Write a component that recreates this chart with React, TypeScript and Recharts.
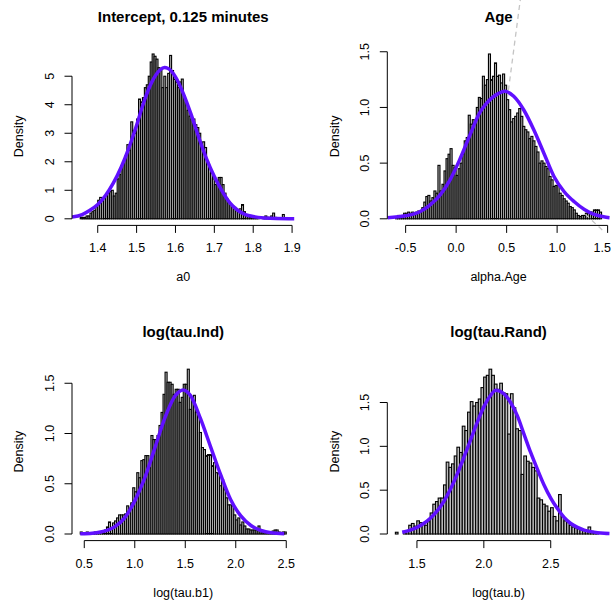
import React from "react";
import { ComposedChart, Bar, Line, XAxis, YAxis, ReferenceLine } from "recharts";

const FONT = '"Liberation Sans", Arial, Helvetica, sans-serif';
const PLOT_W = 222.5;
const PLOT_H = 178;
const Y_AXIS_W = 40;
const X_AXIS_H = 40;
const TICK = 7.5;
const CURVE = "#6010ff";
const BAR_FILL = "#bdbdbd";

// a0 : histogram breaks start 1.355, width 0.005
const a0Start = 1.355;
const a0Width = 0.005;
const a0Density = [
  0.05, 0.05, 0.05, 0.1, 0.1, 0.2, 0.25, 0.3, 0.45, 0.65,
  0.75, 0.7, 0.75, 0.85, 0.9, 0.95, 1.0, 0.8, 0.9, 1.4,
  1.55, 1.8, 2.0, 2.2, 2.6, 2.4, 3.4, 3.1, 3.0, 3.5,
  4.2, 4.1, 4.25, 4.6, 4.7, 5.0, 5.5, 5.78, 5.7, 5.6,
  5.3, 5.2, 4.6, 5.0, 4.6, 5.1, 5.73, 5.2, 4.9, 4.8,
  4.6, 4.8, 4.9, 4.3, 4.1, 3.8, 3.6, 3.5, 3.5, 3.3,
  3.2, 3.0, 2.6, 2.7, 2.5, 2.0, 1.8, 1.6, 1.4, 1.2,
  1.3, 1.45, 1.45, 1.2, 0.9, 0.7, 0.6, 0.5, 0.45, 0.4,
  0.35, 0.3, 0.35, 0.5, 0.25, 0.15, 0.1, 0.05, 0.05, 0.05,
  0.02, 0.02, 0, 0, 0.05, 0.1, 0.05, 0.05, 0.1, 0.2,
  0.05, 0, 0, 0, 0.15, 0,
];
const a0CurveX = [1.334, 1.36, 1.38, 1.4, 1.42, 1.44, 1.46, 1.48, 1.5, 1.52, 1.54, 1.56, 1.572, 1.58, 1.6, 1.62, 1.64, 1.66, 1.68, 1.7, 1.72, 1.74, 1.76, 1.78, 1.8, 1.83, 1.86, 1.906];
const a0CurveY = [0.06, 0.15, 0.3, 0.5, 0.82, 1.25, 1.8, 2.48, 3.28, 4.15, 4.82, 5.22, 5.31, 5.28, 4.98, 4.4, 3.67, 2.85, 2.1, 1.48, 0.97, 0.56, 0.3, 0.15, 0.08, 0.03, 0.01, 0.003];
const a0XTicks = [1.4, 1.5, 1.6, 1.7, 1.8, 1.9];
const a0XLabels = ["1.4", "1.5", "1.6", "1.7", "1.8", "1.9"];
const a0YTicks = [0, 1, 2, 3, 4, 5];
const a0YLabels = ["0", "1", "2", "3", "4", "5"];

// alpha.Age : start -0.6, width 0.02
const ageStart = -0.6;
const ageWidth = 0.02;
const ageDensity = [
  0.02, 0.03, 0.02, 0.03, 0.05, 0.05, 0.06, 0.05, 0.06, 0.05,
  0.06, 0.07, 0.06, 0.1, 0.15, 0.2, 0.21, 0.16, 0.19, 0.25,
  0.23, 0.48, 0.25, 0.31, 0.43, 0.54, 0.58, 0.63, 0.48, 0.46,
  0.39, 0.45, 0.5, 0.58, 0.7, 0.73, 0.93, 0.85, 0.89, 0.88,
  1.0, 1.09, 1.08, 1.28, 1.2, 1.25, 1.48, 1.25, 1.28, 1.4,
  1.28, 1.29, 1.22, 1.3, 1.2, 1.07, 0.98, 0.87, 0.9, 0.92,
  0.95, 0.99, 0.92, 0.83, 0.8, 0.78, 0.72, 0.74, 0.7, 0.65,
  0.6, 0.5, 0.52, 0.5, 0.47, 0.45, 0.38, 0.35, 0.29, 0.3,
  0.3, 0.23, 0.21, 0.18, 0.16, 0.14, 0.11, 0.1, 0.08, 0.05,
  0.03, 0.02, 0.03, 0.03, 0.05, 0.05, 0.06, 0.06, 0.08, 0.08,
  0.08, 0.06,
];
const ageCurveX = [-0.68, -0.5, -0.36, -0.26, -0.16, -0.06, 0.03, 0.13, 0.23, 0.3, 0.42, 0.48, 0.57, 0.67, 0.77, 0.87, 0.97, 1.07, 1.17, 1.27, 1.36, 1.46, 1.52];
const ageCurveY = [0.01, 0.027, 0.063, 0.123, 0.213, 0.35, 0.52, 0.737, 0.947, 1.036, 1.126, 1.145, 1.1, 0.977, 0.797, 0.587, 0.378, 0.243, 0.153, 0.084, 0.042, 0.018, 0.01];
const ageDashTop = [{ x: 0.64, y: 2.0 }, { x: 0.51, y: 1.1 }];
const ageDashLow = [{ x: 1.28, y: 0.04 }, { x: 1.47, y: -0.12 }];
const ageXTicks = [-0.5, 0, 0.5, 1, 1.5];
const ageXLabels = ["-0.5", "0.0", "0.5", "1.0", "1.5"];
const halfYTicks = [0, 0.5, 1, 1.5];
const halfYLabels = ["0.0", "0.5", "1.0", "1.5"];

// log(tau.b1) : start 0.46, width 0.02
const indStart = 0.46;
const indWidth = 0.02;
const indDensity = [
  0.02, 0.01, 0.01, 0.02, 0.01, 0.01, 0.01, 0.02, 0.01, 0.02,
  0.02, 0.03, 0.04, 0.07, 0.12, 0.06, 0.11, 0.13, 0.16, 0.19,
  0.19, 0.19, 0.2, 0.28, 0.23, 0.31, 0.46, 0.42, 0.61, 0.56,
  0.73, 0.74, 0.78, 0.78, 0.66, 0.98, 0.94, 0.94, 0.98, 1.08,
  1.21, 1.39, 1.61, 1.51, 1.51, 1.49, 1.39, 1.44, 1.44, 1.31,
  1.36, 1.49, 1.49, 1.64, 1.24, 1.34, 1.38, 1.21, 1.2, 1.01,
  0.86, 0.84, 0.78, 0.79, 0.79, 0.68, 0.71, 0.61, 0.6, 0.48,
  0.54, 0.44, 0.36, 0.29, 0.29, 0.28, 0.19, 0.14, 0.16, 0.09,
  0.12, 0.08, 0.05, 0.05, 0.04, 0.04, 0.04, 0.04, 0.08, 0.03,
  0.02, 0.02, 0.02, 0.02, 0.01, 0.03, 0.04, 0.04, 0.02, 0.01,
  0.02, 0.02,
];
const indCurveX = [0.46, 0.5, 0.6, 0.7, 0.8, 0.9, 1.0, 1.1, 1.2, 1.3, 1.4, 1.48, 1.55, 1.65, 1.75, 1.85, 1.95, 2.05, 2.15, 2.25, 2.35, 2.48];
const indCurveY = [0.002, 0.003, 0.01, 0.028, 0.071, 0.16, 0.33, 0.56, 0.86, 1.16, 1.375, 1.433, 1.38, 1.15, 0.87, 0.59, 0.34, 0.18, 0.085, 0.035, 0.012, 0.003];
const indXTicks = [0.5, 1, 1.5, 2, 2.5];
const indXLabels = ["0.5", "1.0", "1.5", "2.0", "2.5"];

// log(tau.b) : start 1.34, width 0.02
const randStart = 1.34;
const randWidth = 0.02;
const randDensity = [
  0.02, 0, 0, 0.02, 0.03, 0.1, 0.12, 0.09, 0.15, 0.13,
  0.12, 0.1, 0.14, 0.24, 0.34, 0.37, 0.41, 0.41, 0.56, 0.82,
  0.76, 0.8, 0.89, 0.99, 0.93, 1.23, 1.18, 1.39, 1.51, 1.46,
  1.5, 1.54, 1.67, 1.79, 1.81, 1.88, 1.81, 1.71, 1.65, 1.72,
  1.61, 1.6, 1.14, 1.6, 1.44, 1.2, 1.18, 0.68, 0.89, 0.83,
  0.81, 0.76, 0.72, 0.41, 0.39, 0.34, 0.32, 0.26, 0.3, 0.2,
  0.15, 0.45, 0.2, 0.15, 0.13, 0.1, 0.08, 0.07, 0.06, 0.05,
  0.05, 0.04, 0.08, 0.03, 0.01, 0.01, 0,
];
const randCurveX = [1.39, 1.45, 1.5, 1.55, 1.6, 1.65, 1.7, 1.75, 1.8, 1.85, 1.9, 1.95, 2.0, 2.05, 2.09, 2.15, 2.2, 2.25, 2.3, 2.35, 2.4, 2.45, 2.5, 2.55, 2.6, 2.65, 2.7, 2.75, 2.8, 2.85, 2.9, 2.94];
const randCurveY = [0.02, 0.045, 0.075, 0.12, 0.18, 0.26, 0.37, 0.51, 0.68, 0.87, 1.07, 1.27, 1.45, 1.58, 1.64, 1.6, 1.5, 1.35, 1.14, 0.93, 0.74, 0.56, 0.41, 0.29, 0.19, 0.12, 0.075, 0.045, 0.027, 0.015, 0.008, 0.005];
const randXTicks = [1.5, 2, 2.5];
const randXLabels = ["1.5", "2.0", "2.5"];

type Pt = { x: number; y: number };

type PanelProps = {
  title: string;
  xLabel: string;
  start: number;
  width: number;
  density: number[];
  curveX: number[];
  curveY: number[];
  xTicks: number[];
  xLabels: string[];
  yTicks: number[];
  yLabels: string[];
  plotLeft: number;
  plotTop: number;
  height: number;
  dashes?: Pt[][];
};

const Panel = (p: PanelProps) => {
  const bins = p.density.map((d, i) => ({ x: p.start + p.width * (i + 0.5), d }));
  const curve = p.curveX.map((x, i) => ({ x, y: p.curveY[i] }));
  const lo = p.start;
  const hi = p.start + p.width * p.density.length;
  const pad = (hi - lo) * 0.04;
  const xDomain: [number, number] = [lo - pad, hi + pad];
  const yMax = Math.max(...p.density);
  const yDomain: [number, number] = [-0.04 * yMax, 1.04 * yMax];
  const barPx = (p.width / (xDomain[1] - xDomain[0])) * PLOT_W;
  const plotBottom = p.plotTop + PLOT_H;
  const midX = p.plotLeft + PLOT_W / 2;
  const midY = p.plotTop + PLOT_H / 2;
  const densX = p.plotLeft - 48.5;

  return (
    <ComposedChart
      width={306}
      height={p.height}
      data={bins}
      barCategoryGap={0}
      barGap={0}
      margin={{
        top: p.plotTop,
        left: p.plotLeft - Y_AXIS_W,
        right: 306 - p.plotLeft - PLOT_W,
        bottom: p.height - plotBottom - X_AXIS_H,
      }}
    >
      <XAxis
        type="number"
        dataKey="x"
        domain={xDomain}
        allowDataOverflow
        ticks={p.xTicks}
        interval={0}
        height={X_AXIS_H}
        axisLine={false}
        tickLine={{ stroke: "#000" }}
        tickSize={TICK}
        tickMargin={0}
        tick={(t: any) => {
          const label = p.xLabels[p.xTicks.indexOf(t.payload.value)];
          // keep a label that would run past the right edge inside the picture
          const clip = t.x + 9 > 305;
          return (
            <text
              x={clip ? 305 : t.x}
              y={t.y + 19.5}
              textAnchor={clip ? "end" : "middle"}
              fontSize={12.5}
              fontFamily={FONT}
              fill="#000"
            >
              {label}
            </text>
          );
        }}
      />
      <YAxis
        type="number"
        domain={yDomain}
        allowDataOverflow
        ticks={p.yTicks}
        interval={0}
        width={Y_AXIS_W}
        axisLine={false}
        tickLine={{ stroke: "#000" }}
        tickSize={TICK}
        tickMargin={0}
        tick={(t: any) => (
          <text
            x={t.x - 10.5}
            y={t.y}
            transform={`rotate(-90 ${t.x - 10.5} ${t.y})`}
            textAnchor="middle"
            fontSize={12.5}
            fontFamily={FONT}
            fill="#000"
          >
            {p.yLabels[p.yTicks.indexOf(t.payload.value)]}
          </text>
        )}
      />
      {(p.dashes || []).map((seg, i) => (
        <ReferenceLine
          key={`dash-${i}`}
          segment={seg}
          stroke="#c4c4c4"
          strokeWidth={1.3}
          strokeDasharray="5 4"
          ifOverflow="visible"
        />
      ))}
      <Bar
        dataKey="d"
        isAnimationActive={false}
        shape={(b: any) => {
          const mid = b.x + b.width / 2;
          const top = Math.min(b.y, b.y + b.height);
          return (
            <rect
              x={mid - barPx / 2}
              y={top}
              width={barPx}
              height={Math.abs(b.height)}
              fill={BAR_FILL}
              stroke="#000"
              strokeWidth={1.1}
            />
          );
        }}
      />
      <Line
        data={curve}
        dataKey="y"
        type="monotone"
        stroke={CURVE}
        strokeWidth={3.5}
        dot={false}
        activeDot={false}
        isAnimationActive={false}
      />
      <ReferenceLine
        segment={[
          { x: p.xTicks[0], y: yDomain[0] },
          { x: p.xTicks[p.xTicks.length - 1], y: yDomain[0] },
        ]}
        stroke="#000"
        strokeWidth={1}
        ifOverflow="visible"
      />
      <ReferenceLine
        segment={[
          { x: xDomain[0], y: p.yTicks[0] },
          { x: xDomain[0], y: p.yTicks[p.yTicks.length - 1] },
        ]}
        stroke="#000"
        strokeWidth={1}
        ifOverflow="visible"
      />
      <text x={midX} y={p.plotTop - 25.5} textAnchor="middle" fontSize={15} fontWeight="bold" fontFamily={FONT} fill="#000">
        {p.title}
      </text>
      <text x={midX} y={plotBottom + 56} textAnchor="middle" fontSize={12.5} fontFamily={FONT} fill="#000">
        {p.xLabel}
      </text>
      <text
        x={densX}
        y={midY}
        transform={`rotate(-90 ${densX} ${midY})`}
        textAnchor="middle"
        fontSize={12.5}
        fontFamily={FONT}
        fill="#000"
      >
        Density
      </text>
    </ComposedChart>
  );
};

export default function App() {
  return (
    <div style={{ position: "absolute", left: 0, top: 0, width: 612, height: 601, background: "#fff", overflow: "hidden" }}>
      <div style={{ position: "absolute", left: 0, top: 0 }}>
        <Panel
          title="Intercept, 0.125 minutes"
          xLabel="a0"
          start={a0Start}
          width={a0Width}
          density={a0Density}
          curveX={a0CurveX}
          curveY={a0CurveY}
          xTicks={a0XTicks}
          xLabels={a0XLabels}
          yTicks={a0YTicks}
          yLabels={a0YLabels}
          plotLeft={72}
          plotTop={47.4}
          height={300}
        />
      </div>
      <div style={{ position: "absolute", left: 306, top: 0 }}>
        <Panel
          title="Age"
          xLabel="alpha.Age"
          start={ageStart}
          width={ageWidth}
          density={ageDensity}
          curveX={ageCurveX}
          curveY={ageCurveY}
          xTicks={ageXTicks}
          xLabels={ageXLabels}
          yTicks={halfYTicks}
          yLabels={halfYLabels}
          plotLeft={81.3}
          plotTop={47.4}
          height={300}
          dashes={[ageDashTop, ageDashLow]}
        />
      </div>
      <div style={{ position: "absolute", left: 0, top: 300 }}>
        <Panel
          title="log(tau.Ind)"
          xLabel="log(tau.b1)"
          start={indStart}
          width={indWidth}
          density={indDensity}
          curveX={indCurveX}
          curveY={indCurveY}
          xTicks={indXTicks}
          xLabels={indXLabels}
          yTicks={halfYTicks}
          yLabels={halfYLabels}
          plotLeft={72}
          plotTop={62.6}
          height={301}
        />
      </div>
      <div style={{ position: "absolute", left: 306, top: 300 }}>
        <Panel
          title="log(tau.Rand)"
          xLabel="log(tau.b)"
          start={randStart}
          width={randWidth}
          density={randDensity}
          curveX={randCurveX}
          curveY={randCurveY}
          xTicks={randXTicks}
          xLabels={randXLabels}
          yTicks={halfYTicks}
          yLabels={halfYLabels}
          plotLeft={81.3}
          plotTop={62.6}
          height={301}
        />
      </div>
    </div>
  );
}
